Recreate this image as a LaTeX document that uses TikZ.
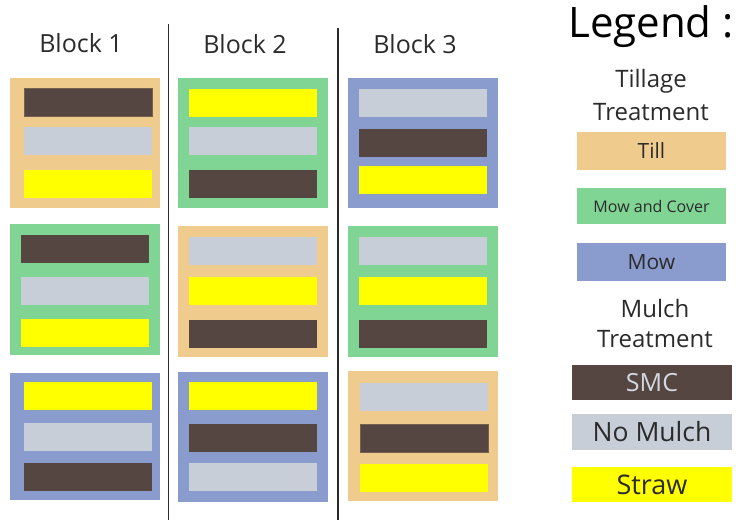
\documentclass[tikz,border=0pt]{standalone}
\usepackage{fontspec}
\setmainfont{Open Sans}
\definecolor{tillc}{HTML}{EFCC8D}
\definecolor{coverc}{HTML}{80D494}
\definecolor{mowc}{HTML}{8A9BCD}
\definecolor{smcc}{HTML}{554641}
\definecolor{noc}{HTML}{C7CED7}
\definecolor{strawc}{HTML}{FFFF00}
\definecolor{txt}{HTML}{2B2B2B}
\newcommand\fs[1]{\fontsize{#1}{#1}\selectfont}
\begin{document}
\begin{tikzpicture}[x=1pt,y=-1pt,
  plotbox/.style={rectangle,inner sep=0pt,outer sep=0pt,anchor=north west,minimum width=150pt,minimum height=130pt},
  barbox/.style={rectangle,inner sep=0pt,outer sep=0pt,anchor=north west,minimum width=128pt,minimum height=28pt},
  legbox/.style={rectangle,inner sep=0pt,outer sep=0pt,anchor=north west,text=txt},
  lbl/.style={text=txt,inner sep=0pt,align=center},
  divider/.style={draw=txt,line width=1.8pt}]
\useasboundingbox (0,0) rectangle (736,520);
\fill[white] (0,0) rectangle (736,520);
% dividers
\coordinate (d1t) at (168.5,24); \coordinate (d1b) at (168.5,520);
\coordinate (d2t) at (338,28); \coordinate (d2b) at (338,520);
\draw[divider] (d1t) -- (d1b);
\draw[divider] (d2t) -- (d2b);
% block labels
\node[lbl] (bl1) at (81,43) {\fs{25}Block 1};
\node[lbl] (bl2) at (245,44) {\fs{25}Block 2};
\node[lbl] (bl3) at (415,44) {\fs{25}Block 3};
% Block 1
\node[plotbox,fill=tillc] (p11) at (10,78) {};
\node[barbox,fill=smcc,draw=smcc!80!tillc] (p11a) at (24,88) {};
\node[barbox,fill=noc] (p11b) at (24,127) {};
\node[barbox,fill=strawc] (p11c) at (24,170) {};
\node[plotbox,fill=coverc,minimum height=131pt] (p12) at (10,224) {};
\node[barbox,fill=smcc] (p12a) at (21,235) {};
\node[barbox,fill=noc] (p12b) at (21,277) {};
\node[barbox,fill=strawc] (p12c) at (21,319) {};
\node[plotbox,fill=mowc,minimum height=127pt] (p13) at (10,373) {};
\node[barbox,fill=strawc] (p13a) at (24,382) {};
\node[barbox,fill=noc] (p13b) at (24,423) {};
\node[barbox,fill=smcc] (p13c) at (24,463) {};
% Block 2
\node[plotbox,fill=coverc] (p21) at (178,78) {};
\node[barbox,fill=strawc] (p21a) at (189,89) {};
\node[barbox,fill=noc] (p21b) at (189,127) {};
\node[barbox,fill=smcc] (p21c) at (189,170) {};
\node[plotbox,fill=tillc,minimum height=131pt] (p22) at (178,226) {};
\node[barbox,fill=noc] (p22a) at (189,237) {};
\node[barbox,fill=strawc] (p22b) at (189,277) {};
\node[barbox,fill=smcc] (p22c) at (189,320) {};
\node[plotbox,fill=mowc] (p23) at (178,372) {};
\node[barbox,fill=strawc] (p23a) at (189,382) {};
\node[barbox,fill=smcc] (p23b) at (189,424) {};
\node[barbox,fill=noc] (p23c) at (189,463) {};
% Block 3
\node[plotbox,fill=mowc] (p31) at (348,78) {};
\node[barbox,fill=noc] (p31a) at (359,89) {};
\node[barbox,fill=smcc] (p31b) at (359,129) {};
\node[barbox,fill=strawc] (p31c) at (359,166) {};
\node[plotbox,fill=coverc,minimum height=131pt] (p32) at (348,226) {};
\node[barbox,fill=noc] (p32a) at (359,237) {};
\node[barbox,fill=strawc] (p32b) at (359,277) {};
\node[barbox,fill=smcc] (p32c) at (359,320) {};
\node[plotbox,fill=tillc] (p33) at (348,371) {};
\node[barbox,fill=noc] (p33a) at (360,383) {};
\node[barbox,fill=smcc,draw=smcc!80!tillc] (p33b) at (360,424) {};
\node[barbox,fill=strawc] (p33c) at (360,464) {};
% Legend
\node[lbl,text=black] (leg) at (651,27) {\fs{42}Legend :};
\node[lbl] (tt1) at (651,81) {\fs{24}Tillage};
\node[lbl] (tt2) at (651,112) {\fs{24}Treatment};
\node[legbox,fill=tillc,minimum width=149pt,minimum height=38pt] (lt) at (577,132) {};
\node[lbl] (ltt) at (lt.center) {\fs{21}Till};
\node[lbl,text=txt!40] (lhid) at (651,198) {\fs{21}Till};
\node[legbox,fill=coverc,minimum width=149pt,minimum height=36pt] (lc) at (577,188) {};
\node[lbl] (lct) at (lc.center) {\fs{16}Mow and Cover};
\node[legbox,fill=mowc,minimum width=149pt,minimum height=38pt] (lm) at (577,243) {};
\node[lbl] (lmt) at (lm.center) {\fs{21}Mow};
\node[lbl] (mt1) at (655,308) {\fs{24}Mulch};
\node[lbl] (mt2) at (655,339) {\fs{24}Treatment};
\node[legbox,fill=smcc,minimum width=160pt,minimum height=35pt] (ls) at (572,365) {};
\node[lbl,text=noc!80!white] (lst) at (ls.center) {\fs{25}SMC};
\node[legbox,fill=noc,minimum width=160pt,minimum height=36pt] (ln) at (572,414) {};
\node[lbl] (lnt) at (ln.center) {\fs{26.5}No Mulch};
\node[legbox,fill=strawc,minimum width=160pt,minimum height=35pt] (lw) at (572,467) {};
\node[lbl] (lwt) at (lw.center) {\fs{27}Straw};
\end{tikzpicture}
\end{document}
